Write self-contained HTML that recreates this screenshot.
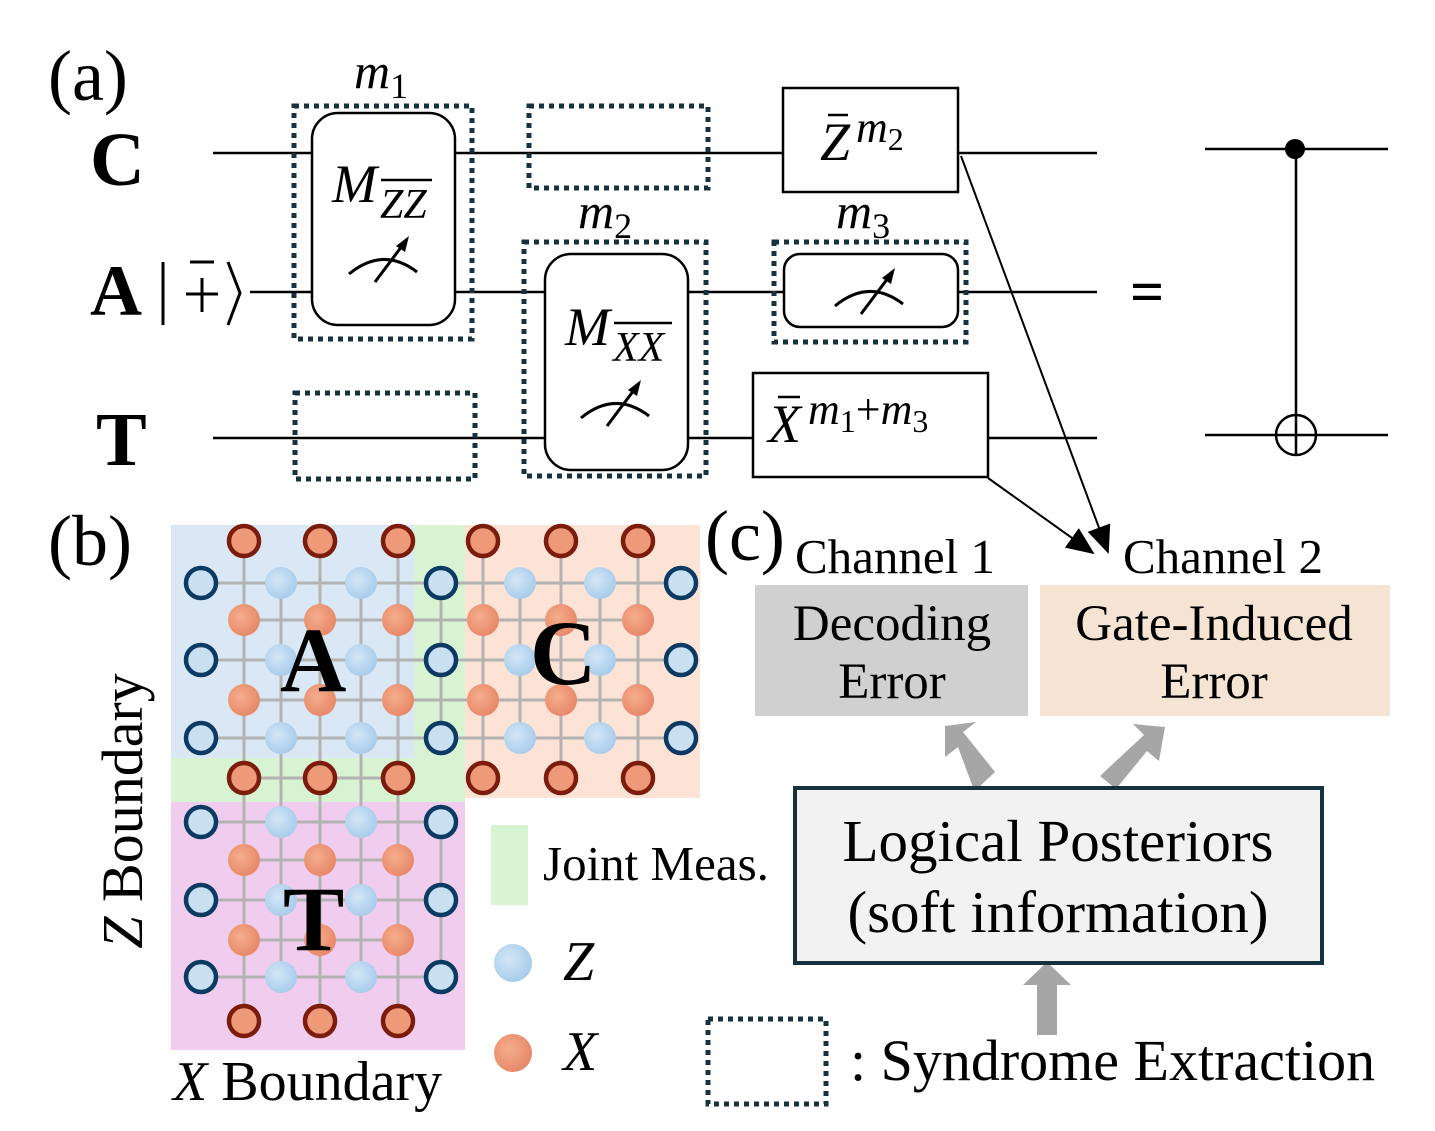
<!DOCTYPE html>
<html><head><meta charset="utf-8"><style>
html,body{margin:0;padding:0;background:#fff}
svg{display:block}
text{font-family:"Liberation Serif",serif;fill:#000}
</style></head><body>
<svg width="1435" height="1131" viewBox="0 0 1435 1131" xmlns="http://www.w3.org/2000/svg">
<defs>
<marker id="ah2" markerWidth="28" markerHeight="24" refX="26" refY="12" orient="auto" markerUnits="userSpaceOnUse" viewBox="0 0 28 24">
<path d="M0,0 L28,12 L0,24 z" fill="#000"/></marker>
<g id="meter">
<path d="M-34,16 Q0,-12 34,14" fill="none" stroke="#000" stroke-width="3"/>
<line x1="-8" y1="24" x2="22" y2="-16" stroke="#000" stroke-width="3"/>
<path d="M26,-22 L13,-12 L22,-6 z" fill="#000"/>
</g>
<radialGradient id="gz" cx="0.4" cy="0.4" r="0.6"><stop offset="0" stop-color="#d4e6f6"/><stop offset="1" stop-color="#a9cdec"/></radialGradient>
<radialGradient id="gx" cx="0.4" cy="0.4" r="0.6"><stop offset="0" stop-color="#f4ae8c"/><stop offset="1" stop-color="#e8896a"/></radialGradient>
</defs>

<text x="48" y="100" font-size="72">(a)</text>
<text x="90" y="185" font-size="76" font-weight="bold">C</text>
<text x="90" y="315" font-size="72" font-weight="bold">A</text>
<line x1="163" y1="262" x2="163" y2="325" stroke="#000" stroke-width="3"/>
<line x1="186" y1="294" x2="218" y2="294" stroke="#000" stroke-width="3"/>
<line x1="202" y1="278" x2="202" y2="312" stroke="#000" stroke-width="3"/>
<line x1="190" y1="262" x2="214" y2="262" stroke="#000" stroke-width="3"/>
<path d="M228,262 L240,293 L228,325" fill="none" stroke="#000" stroke-width="3"/>
<text x="96" y="465" font-size="76" font-weight="bold">T</text>

<g stroke="#000" stroke-width="2.5">
<line x1="213" y1="153" x2="1097" y2="153"/>
<line x1="250" y1="292" x2="1097" y2="292"/>
<line x1="213" y1="438" x2="1097" y2="438"/>
</g>

<g fill="none" stroke="#17323f" stroke-width="5" stroke-dasharray="5,5">
<rect x="294" y="106" width="178" height="233"/>
<rect x="529" y="106" width="179" height="82"/>
<rect x="524" y="242" width="182" height="234"/>
<rect x="774" y="242" width="192" height="100"/>
<rect x="295" y="393" width="180" height="86"/>
<rect x="708" y="1019" width="118" height="85"/>
</g>

<g fill="#fff" stroke="#000" stroke-width="2.5">
<rect x="312" y="113" width="143" height="212" rx="26"/>
<rect x="545" y="254" width="143" height="216" rx="26"/>
<rect x="784" y="254" width="174" height="73" rx="16"/>
<rect x="783" y="88" width="175" height="104"/>
<rect x="753" y="373" width="235" height="104"/>
</g>
<use href="#meter" x="383" y="258"/>
<use href="#meter" x="615" y="402"/>
<use href="#meter" x="869" y="290"/>

<g font-style="italic">
<text x="354" y="88" font-size="50">m<tspan font-size="36" dy="10" font-style="normal">1</tspan></text>
<text x="578" y="228" font-size="50">m<tspan font-size="36" dy="10" font-style="normal">2</tspan></text>
<text x="836" y="228" font-size="50">m<tspan font-size="36" dy="10" font-style="normal">3</tspan></text>
<text x="332" y="202" font-size="54">M</text>
<text x="380" y="218" font-size="42">ZZ</text>
<text x="565" y="345" font-size="54">M</text>
<text x="613" y="361" font-size="42">XX</text>
<text x="820" y="160" font-size="54">Z</text>
<text x="856" y="142" font-size="44">m<tspan font-size="32" dy="8" font-style="normal">2</tspan></text>
<text x="768" y="442" font-size="54">X</text>
<text x="808" y="424" font-size="44">m<tspan font-size="32" dy="8" font-style="normal">1</tspan><tspan dy="-8" font-style="normal">+</tspan>m<tspan font-size="32" dy="8" font-style="normal">3</tspan></text>
</g>
<g stroke="#000" stroke-width="2.5">
<line x1="381" y1="180" x2="432" y2="180"/>
<line x1="614" y1="323" x2="672" y2="323"/>
<line x1="828" y1="115" x2="848" y2="115"/>
<line x1="778" y1="397" x2="800" y2="397"/>
</g>

<text x="1130" y="312" font-size="60" font-weight="bold">=</text>
<g stroke="#000" stroke-width="2.5" fill="none">
<line x1="1205" y1="149" x2="1388" y2="149"/>
<line x1="1205" y1="435" x2="1388" y2="435"/>
<line x1="1296" y1="149" x2="1296" y2="455"/>
<circle cx="1296" cy="435" r="20"/>
</g>
<circle cx="1295" cy="149" r="10" fill="#000"/>

<line x1="961" y1="156" x2="1108" y2="552" stroke="#000" stroke-width="2" marker-end="url(#ah2)"/>
<line x1="988" y1="478" x2="1093" y2="553" stroke="#000" stroke-width="2" marker-end="url(#ah2)"/>

<rect x="171" y="525" width="243" height="233" fill="#dae8f6"/>
<rect x="414" y="525" width="51" height="277" fill="#d8f3d2"/>
<rect x="171" y="758" width="294" height="44" fill="#d8f3d2"/>
<rect x="465" y="525" width="235" height="273" fill="#fce3d6"/>
<rect x="171" y="802" width="294" height="248" fill="#f0cdee"/>

<g stroke="#b3b3b3" stroke-width="3">
<line x1="201" y1="583" x2="681" y2="583"/>
<line x1="201" y1="660" x2="681" y2="660"/>
<line x1="201" y1="738" x2="681" y2="738"/>
<line x1="244" y1="620" x2="638" y2="620"/>
<line x1="244" y1="700" x2="638" y2="700"/>
<line x1="244" y1="778" x2="398" y2="778"/>
<line x1="201" y1="822" x2="441" y2="822"/>
<line x1="201" y1="900" x2="441" y2="900"/>
<line x1="201" y1="977" x2="441" y2="977"/>
<line x1="244" y1="860" x2="398" y2="860"/>
<line x1="244" y1="940" x2="398" y2="940"/>
<line x1="244" y1="541" x2="244" y2="1021"/>
<line x1="320" y1="541" x2="320" y2="1021"/>
<line x1="398" y1="541" x2="398" y2="1021"/>
<line x1="281" y1="583" x2="281" y2="977"/>
<line x1="361" y1="583" x2="361" y2="977"/>
<line x1="441" y1="583" x2="441" y2="738"/>
<line x1="441" y1="822" x2="441" y2="977"/>
<line x1="483" y1="541" x2="483" y2="778"/>
<line x1="561" y1="541" x2="561" y2="778"/>
<line x1="638" y1="541" x2="638" y2="778"/>
<line x1="520" y1="583" x2="520" y2="738"/>
<line x1="600" y1="583" x2="600" y2="738"/>
</g>

<g fill="url(#gz)">
<circle cx="281" cy="583" r="16"/><circle cx="361" cy="583" r="16"/>
<circle cx="281" cy="660" r="16"/><circle cx="361" cy="660" r="16"/>
<circle cx="281" cy="738" r="16"/><circle cx="361" cy="738" r="16"/>
<circle cx="520" cy="583" r="16"/><circle cx="600" cy="583" r="16"/>
<circle cx="520" cy="660" r="16"/><circle cx="600" cy="660" r="16"/>
<circle cx="520" cy="738" r="16"/><circle cx="600" cy="738" r="16"/>
<circle cx="281" cy="822" r="16"/><circle cx="361" cy="822" r="16"/>
<circle cx="281" cy="900" r="16"/><circle cx="361" cy="900" r="16"/>
<circle cx="281" cy="977" r="16"/><circle cx="361" cy="977" r="16"/>
<circle cx="513" cy="963" r="19"/>
</g>
<g fill="#c9e0f3" stroke="#0d3a63" stroke-width="4.5">
<circle cx="201" cy="583" r="15"/><circle cx="201" cy="660" r="15"/><circle cx="201" cy="738" r="15"/>
<circle cx="441" cy="583" r="15"/><circle cx="441" cy="660" r="15"/><circle cx="441" cy="738" r="15"/>
<circle cx="681" cy="583" r="15"/><circle cx="681" cy="660" r="15"/><circle cx="681" cy="738" r="15"/>
<circle cx="201" cy="822" r="15"/><circle cx="201" cy="900" r="15"/><circle cx="201" cy="977" r="15"/>
<circle cx="441" cy="822" r="15"/><circle cx="441" cy="900" r="15"/><circle cx="441" cy="977" r="15"/>
</g>
<g fill="url(#gx)">
<circle cx="244" cy="620" r="16"/><circle cx="320" cy="620" r="16"/><circle cx="398" cy="620" r="16"/>
<circle cx="244" cy="700" r="16"/><circle cx="320" cy="700" r="16"/><circle cx="398" cy="700" r="16"/>
<circle cx="483" cy="620" r="16"/><circle cx="561" cy="620" r="16"/><circle cx="638" cy="620" r="16"/>
<circle cx="483" cy="700" r="16"/><circle cx="561" cy="700" r="16"/><circle cx="638" cy="700" r="16"/>
<circle cx="244" cy="860" r="16"/><circle cx="320" cy="860" r="16"/><circle cx="398" cy="860" r="16"/>
<circle cx="244" cy="940" r="16"/><circle cx="320" cy="940" r="16"/><circle cx="398" cy="940" r="16"/>
<circle cx="513" cy="1053" r="19"/>
</g>
<g fill="#ee9a78" stroke="#7b1c0c" stroke-width="4.5">
<circle cx="244" cy="541" r="15"/><circle cx="320" cy="541" r="15"/><circle cx="398" cy="541" r="15"/>
<circle cx="483" cy="541" r="15"/><circle cx="561" cy="541" r="15"/><circle cx="638" cy="541" r="15"/>
<circle cx="244" cy="778" r="15"/><circle cx="320" cy="778" r="15"/><circle cx="398" cy="778" r="15"/>
<circle cx="483" cy="778" r="15"/><circle cx="561" cy="778" r="15"/><circle cx="638" cy="778" r="15"/>
<circle cx="244" cy="1021" r="15"/><circle cx="320" cy="1021" r="15"/><circle cx="398" cy="1021" r="15"/>
</g>

<text x="280" y="691" font-size="92" font-weight="bold">A</text>
<text x="530" y="684" font-size="92" font-weight="bold">C</text>
<text x="283" y="950" font-size="92" font-weight="bold">T</text>

<text x="48" y="565" font-size="72">(b)</text>
<text transform="translate(142,811) rotate(-90)" text-anchor="middle" font-size="58"><tspan font-style="italic">Z</tspan> Boundary</text>
<text x="173" y="1100" font-size="56"><tspan font-style="italic">X</tspan> Boundary</text>

<rect x="491" y="825" width="37" height="80" fill="#d8f3d2"/>
<text x="543" y="880" font-size="49">Joint Meas.</text>
<text x="563" y="980" font-size="56" font-style="italic">Z</text>
<text x="563" y="1070" font-size="56" font-style="italic">X</text>

<text x="705" y="560" font-size="72">(c)</text>
<text x="795" y="573" font-size="49">Channel 1</text>
<text x="1123" y="573" font-size="49">Channel 2</text>
<rect x="755" y="585" width="273" height="131" fill="#d0d0d0"/>
<rect x="1040" y="585" width="350" height="131" fill="#f5e4d4"/>
<text x="892" y="640" font-size="51" text-anchor="middle">Decoding</text>
<text x="892" y="698" font-size="51" text-anchor="middle">Error</text>
<text x="1214" y="640" font-size="51" text-anchor="middle">Gate-Induced</text>
<text x="1214" y="698" font-size="51" text-anchor="middle">Error</text>

<g fill="#a6a6a6">
<path d="M979,787 L995,772 L963,732 L976,722 L945,726 L945,757 L958,747 L974,790 z"/>
<path d="M1100,776 L1116,789 L1147,751 L1159,761 L1165,727 L1133,724 L1144,735 z"/>
<path d="M1037,1035 L1057,1035 L1057,985 L1071,985 L1047,962 L1023,985 L1037,985 z"/>
</g>

<rect x="795" y="788" width="527" height="175" fill="#f2f2f2" stroke="#17323f" stroke-width="4"/>
<text x="1058" y="861" font-size="59" text-anchor="middle">Logical Posteriors</text>
<text x="1058" y="932" font-size="59" text-anchor="middle">(soft information)</text>

<text x="850" y="1080" font-size="58">: Syndrome Extraction</text>
</svg>
</body></html>
